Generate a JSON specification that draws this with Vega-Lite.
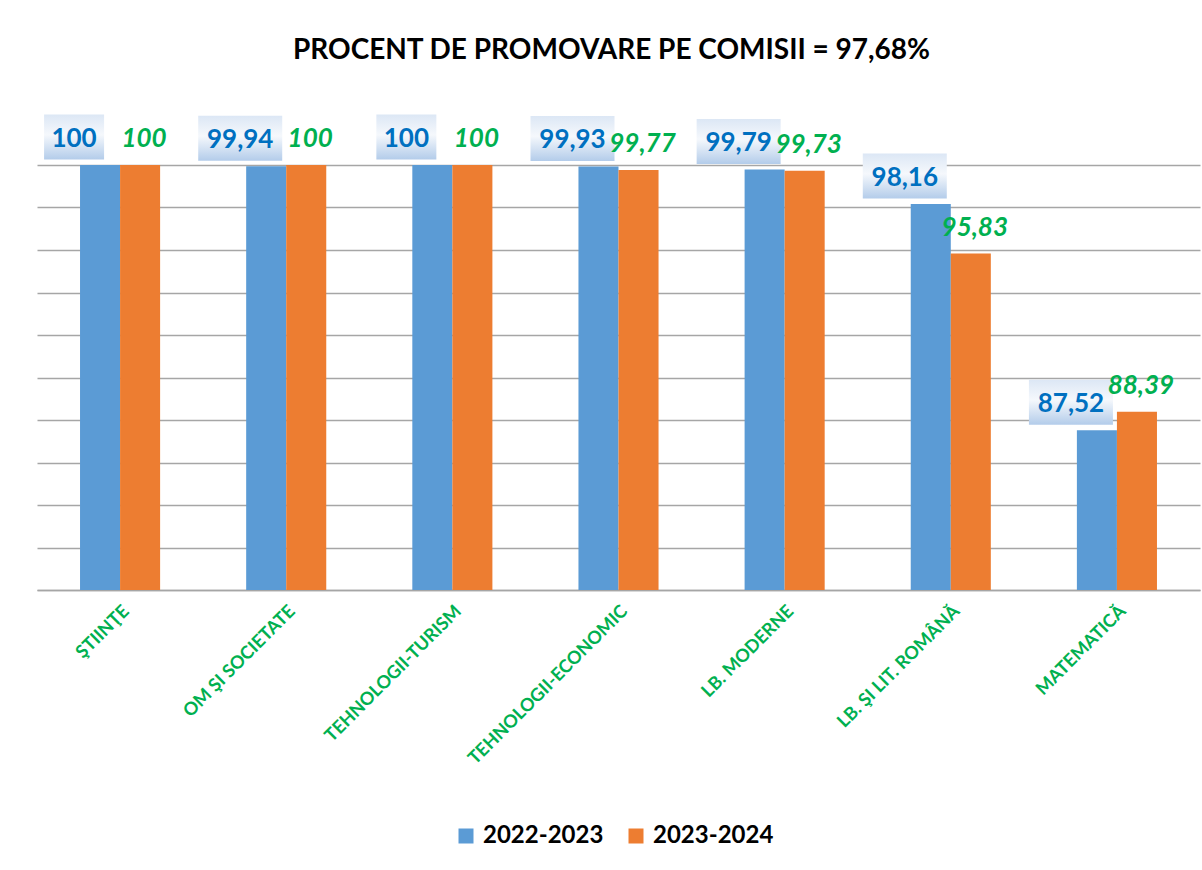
{
  "$schema": "https://vega.github.io/schema/vega-lite/v6.json",
  "autosize": "none",
  "width": 1163,
  "height": 425,
  "padding": {"left": 37, "top": 165, "right": 2, "bottom": 280},
  "background": "white",
  "config": {
    "font": "Lato",
    "locale": {"number": {"decimal": ",", "thousands": ".", "grouping": [3], "currency": ["", " €"]}},
    "view": {"stroke": null}
  },
  "title": {
    "text": "PROCENT DE PROMOVARE PE COMISII =  97,68%",
    "font": "Lato",
    "fontSize": 28,
    "fontWeight": "bold",
    "color": "#000000",
    "anchor": "middle",
    "frame": "group",
    "baseline": "alphabetic",
    "offset": 28,
    "dx": -7
  },
  "data": {
    "values": [
      {"cat": "ŞTIINŢE", "year": "2022-2023", "v": 100},
      {"cat": "ŞTIINŢE", "year": "2023-2024", "v": 100},
      {"cat": "OM ŞI SOCIETATE", "year": "2022-2023", "v": 99.94},
      {"cat": "OM ŞI SOCIETATE", "year": "2023-2024", "v": 100},
      {"cat": "TEHNOLOGII-TURISM", "year": "2022-2023", "v": 100},
      {"cat": "TEHNOLOGII-TURISM", "year": "2023-2024", "v": 100},
      {"cat": "TEHNOLOGII-ECONOMIC", "year": "2022-2023", "v": 99.93},
      {"cat": "TEHNOLOGII-ECONOMIC", "year": "2023-2024", "v": 99.77},
      {"cat": "LB. MODERNE", "year": "2022-2023", "v": 99.79},
      {"cat": "LB. MODERNE", "year": "2023-2024", "v": 99.73},
      {"cat": "LB. ŞI LIT. ROMÂNĂ", "year": "2022-2023", "v": 98.16},
      {"cat": "LB. ŞI LIT. ROMÂNĂ", "year": "2023-2024", "v": 95.83},
      {"cat": "MATEMATICĂ", "year": "2022-2023", "v": 87.52},
      {"cat": "MATEMATICĂ", "year": "2023-2024", "v": 88.39}
    ]
  },
  "encoding": {
    "x": {
      "field": "cat",
      "type": "nominal",
      "sort": null,
      "scale": {"paddingInner": 0.518, "paddingOuter": 0.259},
      "axis": {
        "title": null,
        "labelAngle": -45,
        "labelColor": "#00B050",
        "labelFontSize": 18,
        "labelFontWeight": "bold",
        "labelFont": "Lato",
        "ticks": false,
        "domainColor": "#A6A6A6",
        "domainWidth": 1.5,
        "labelPadding": 12,
        "labelLimit": 400,
        "grid": false
      }
    },
    "y": {
      "field": "v",
      "type": "quantitative",
      "scale": {"domain": [80, 100], "nice": false, "zero": false},
      "axis": {
        "title": null,
        "labels": false,
        "ticks": false,
        "domain": false,
        "grid": true,
        "gridColor": "#A6A6A6",
        "gridWidth": 1.5,
        "values": [80, 82, 84, 86, 88, 90, 92, 94, 96, 98, 100]
      }
    }
  },
  "layer": [
    {
      "mark": {"type": "bar"},
      "encoding": {
        "y2": {"datum": 80},
        "xOffset": {"field": "year", "type": "nominal", "scale": {"paddingInner": 0, "paddingOuter": 0}},
        "color": {
          "field": "year",
          "type": "nominal",
          "scale": {"domain": ["2022-2023", "2023-2024"], "range": ["#5B9BD5", "#ED7D31"]},
          "legend": {
            "orient": "none",
            "legendX": 417,
            "legendY": 659,
            "direction": "horizontal",
            "title": null,
            "symbolType": "square",
            "symbolSize": 225,
            "symbolStrokeWidth": 0,
            "labelFontSize": 24,
            "labelFontWeight": "bold",
            "labelFont": "Lato",
            "labelColor": "#000000",
            "columnPadding": 20,
            "labelOffset": 5
          }
        }
      }
    },
    {
      "transform": [{"filter": "datum.year == '2022-2023' && datum.v == 100"}],
      "mark": {
        "type": "point",
        "shape": "M-7.6,-5.05 L-1.6,-5.05 L-1.6,-0.55 L-7.6,-0.55 Z",
        "size": 400,
        "filled": true,
        "opacity": 1,
        "strokeWidth": 0,
        "fill": {"gradient": "linear", "x1": 0, "y1": 0, "x2": 0, "y2": 1, "stops": [{"offset": 0, "color": "#DCE7F5"}, {"offset": 0.45, "color": "#F5F8FC"}, {"offset": 1, "color": "#B3CCEA"}]}
      }
    },
    {
      "transform": [{"filter": "datum.year == '2022-2023' && datum.v != 100"}],
      "mark": {
        "type": "point",
        "shape": "M-8.8,-5.05 L-0.4,-5.05 L-0.4,-0.55 L-8.8,-0.55 Z",
        "size": 400,
        "filled": true,
        "opacity": 1,
        "strokeWidth": 0,
        "fill": {"gradient": "linear", "x1": 0, "y1": 0, "x2": 0, "y2": 1, "stops": [{"offset": 0, "color": "#DCE7F5"}, {"offset": 0.45, "color": "#F5F8FC"}, {"offset": 1, "color": "#B3CCEA"}]}
      }
    },
    {
      "transform": [{"filter": "datum.year == '2022-2023'"}],
      "mark": {"type": "text", "font": "Lato", "fontSize": 26, "fontWeight": "bold", "color": "#0070C0", "dx": -46, "dy": -18, "baseline": "alphabetic", "align": "center"},
      "encoding": {"text": {"field": "v", "type": "quantitative", "format": "~g"}}
    },
    {
      "transform": [{"filter": "datum.year == '2023-2024'"}],
      "mark": {"type": "text", "font": "Lato", "fontSize": 26, "fontWeight": "bold", "fontStyle": "italic", "color": "#00B050", "dx": 24, "dy": -18, "baseline": "alphabetic", "align": "center"},
      "encoding": {"text": {"field": "v", "type": "quantitative", "format": "~g"}}
    }
  ]
}
